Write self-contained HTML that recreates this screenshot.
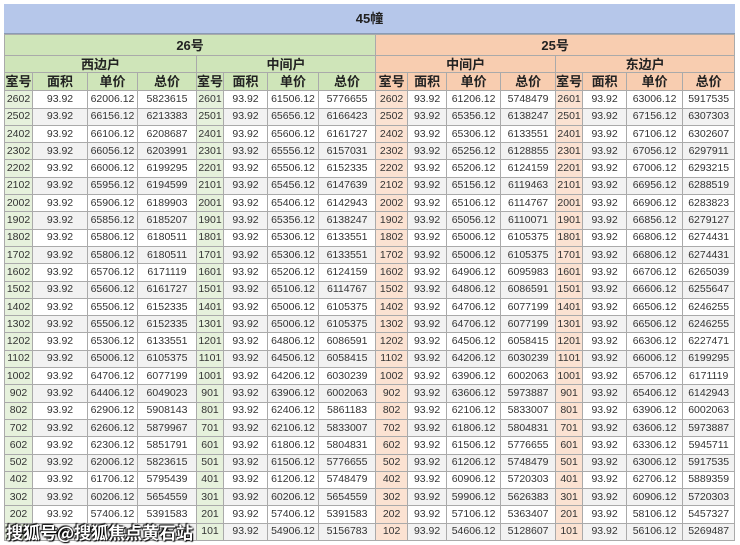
<!DOCTYPE html>
<html><head><meta charset="utf-8"><style>
body{margin:0;width:740px;height:545px;background:#fff;overflow:hidden;position:relative;font-family:"Liberation Sans","Noto Sans CJK SC",sans-serif;}
.title{position:absolute;left:4px;top:4px;width:731px;height:29px;background:#b6c7ea;text-align:center;line-height:29px;font-weight:bold;font-size:13px;color:#222;border-bottom:1px solid #8a9bb5}
table{position:absolute;left:4px;top:34px;border-collapse:collapse;table-layout:fixed;width:731px}
td{border:1px solid #aaa;padding:0;text-align:center;font-size:10.5px;color:#333;height:16.3px;line-height:15px;overflow:hidden;white-space:nowrap}
tr:nth-child(2n+5) td{background:#f2f2f2}
.g{background:#cfe5b9!important;font-weight:bold;font-size:13px;color:#222}
.o{background:#f8cdb0!important;font-weight:bold;font-size:13px;color:#222}
td.gc{background:#e6f1dc!important}
td.oc{background:#fbe2d2!important}
.wm{position:absolute;left:6px;top:519px;font-size:17px;color:#fff;font-weight:bold;text-shadow:0 0 2px #000,1px 1px 1px #000,-1px -1px 1px #000;font-family:"Noto Sans CJK SC",sans-serif}
</style></head><body>
<div class="title">45幢</div>
<table>
<colgroup><col style="width:28px"><col style="width:55px"><col style="width:50px"><col style="width:59px"><col style="width:27px"><col style="width:44px"><col style="width:51px"><col style="width:57px"><col style="width:32px"><col style="width:39px"><col style="width:54px"><col style="width:55px"><col style="width:27px"><col style="width:44px"><col style="width:56px"><col style="width:52px"></colgroup>
<tr style="height:21px"><td class="g" colspan="8">26号</td><td class="o" colspan="8">25号</td></tr>
<tr style="height:17px"><td class="g" colspan="4">西边户</td><td class="g" colspan="4">中间户</td><td class="o" colspan="4">中间户</td><td class="o" colspan="4">东边户</td></tr>
<tr style="height:18px"><td class="g">室号</td><td class="g">面积</td><td class="g">单价</td><td class="g">总价</td><td class="g">室号</td><td class="g">面积</td><td class="g">单价</td><td class="g">总价</td><td class="o">室号</td><td class="o">面积</td><td class="o">单价</td><td class="o">总价</td><td class="o">室号</td><td class="o">面积</td><td class="o">单价</td><td class="o">总价</td></tr>
<tr><td class="gc">2602</td><td>93.92</td><td>62006.12</td><td>5823615</td><td class="gc">2601</td><td>93.92</td><td>61506.12</td><td>5776655</td><td class="oc">2602</td><td>93.92</td><td>61206.12</td><td>5748479</td><td class="oc">2601</td><td>93.92</td><td>63006.12</td><td>5917535</td></tr>
<tr><td class="gc">2502</td><td>93.92</td><td>66156.12</td><td>6213383</td><td class="gc">2501</td><td>93.92</td><td>65656.12</td><td>6166423</td><td class="oc">2502</td><td>93.92</td><td>65356.12</td><td>6138247</td><td class="oc">2501</td><td>93.92</td><td>67156.12</td><td>6307303</td></tr>
<tr><td class="gc">2402</td><td>93.92</td><td>66106.12</td><td>6208687</td><td class="gc">2401</td><td>93.92</td><td>65606.12</td><td>6161727</td><td class="oc">2402</td><td>93.92</td><td>65306.12</td><td>6133551</td><td class="oc">2401</td><td>93.92</td><td>67106.12</td><td>6302607</td></tr>
<tr><td class="gc">2302</td><td>93.92</td><td>66056.12</td><td>6203991</td><td class="gc">2301</td><td>93.92</td><td>65556.12</td><td>6157031</td><td class="oc">2302</td><td>93.92</td><td>65256.12</td><td>6128855</td><td class="oc">2301</td><td>93.92</td><td>67056.12</td><td>6297911</td></tr>
<tr><td class="gc">2202</td><td>93.92</td><td>66006.12</td><td>6199295</td><td class="gc">2201</td><td>93.92</td><td>65506.12</td><td>6152335</td><td class="oc">2202</td><td>93.92</td><td>65206.12</td><td>6124159</td><td class="oc">2201</td><td>93.92</td><td>67006.12</td><td>6293215</td></tr>
<tr><td class="gc">2102</td><td>93.92</td><td>65956.12</td><td>6194599</td><td class="gc">2101</td><td>93.92</td><td>65456.12</td><td>6147639</td><td class="oc">2102</td><td>93.92</td><td>65156.12</td><td>6119463</td><td class="oc">2101</td><td>93.92</td><td>66956.12</td><td>6288519</td></tr>
<tr><td class="gc">2002</td><td>93.92</td><td>65906.12</td><td>6189903</td><td class="gc">2001</td><td>93.92</td><td>65406.12</td><td>6142943</td><td class="oc">2002</td><td>93.92</td><td>65106.12</td><td>6114767</td><td class="oc">2001</td><td>93.92</td><td>66906.12</td><td>6283823</td></tr>
<tr><td class="gc">1902</td><td>93.92</td><td>65856.12</td><td>6185207</td><td class="gc">1901</td><td>93.92</td><td>65356.12</td><td>6138247</td><td class="oc">1902</td><td>93.92</td><td>65056.12</td><td>6110071</td><td class="oc">1901</td><td>93.92</td><td>66856.12</td><td>6279127</td></tr>
<tr><td class="gc">1802</td><td>93.92</td><td>65806.12</td><td>6180511</td><td class="gc">1801</td><td>93.92</td><td>65306.12</td><td>6133551</td><td class="oc">1802</td><td>93.92</td><td>65006.12</td><td>6105375</td><td class="oc">1801</td><td>93.92</td><td>66806.12</td><td>6274431</td></tr>
<tr><td class="gc">1702</td><td>93.92</td><td>65806.12</td><td>6180511</td><td class="gc">1701</td><td>93.92</td><td>65306.12</td><td>6133551</td><td class="oc">1702</td><td>93.92</td><td>65006.12</td><td>6105375</td><td class="oc">1701</td><td>93.92</td><td>66806.12</td><td>6274431</td></tr>
<tr><td class="gc">1602</td><td>93.92</td><td>65706.12</td><td>6171119</td><td class="gc">1601</td><td>93.92</td><td>65206.12</td><td>6124159</td><td class="oc">1602</td><td>93.92</td><td>64906.12</td><td>6095983</td><td class="oc">1601</td><td>93.92</td><td>66706.12</td><td>6265039</td></tr>
<tr><td class="gc">1502</td><td>93.92</td><td>65606.12</td><td>6161727</td><td class="gc">1501</td><td>93.92</td><td>65106.12</td><td>6114767</td><td class="oc">1502</td><td>93.92</td><td>64806.12</td><td>6086591</td><td class="oc">1501</td><td>93.92</td><td>66606.12</td><td>6255647</td></tr>
<tr><td class="gc">1402</td><td>93.92</td><td>65506.12</td><td>6152335</td><td class="gc">1401</td><td>93.92</td><td>65006.12</td><td>6105375</td><td class="oc">1402</td><td>93.92</td><td>64706.12</td><td>6077199</td><td class="oc">1401</td><td>93.92</td><td>66506.12</td><td>6246255</td></tr>
<tr><td class="gc">1302</td><td>93.92</td><td>65506.12</td><td>6152335</td><td class="gc">1301</td><td>93.92</td><td>65006.12</td><td>6105375</td><td class="oc">1302</td><td>93.92</td><td>64706.12</td><td>6077199</td><td class="oc">1301</td><td>93.92</td><td>66506.12</td><td>6246255</td></tr>
<tr><td class="gc">1202</td><td>93.92</td><td>65306.12</td><td>6133551</td><td class="gc">1201</td><td>93.92</td><td>64806.12</td><td>6086591</td><td class="oc">1202</td><td>93.92</td><td>64506.12</td><td>6058415</td><td class="oc">1201</td><td>93.92</td><td>66306.12</td><td>6227471</td></tr>
<tr><td class="gc">1102</td><td>93.92</td><td>65006.12</td><td>6105375</td><td class="gc">1101</td><td>93.92</td><td>64506.12</td><td>6058415</td><td class="oc">1102</td><td>93.92</td><td>64206.12</td><td>6030239</td><td class="oc">1101</td><td>93.92</td><td>66006.12</td><td>6199295</td></tr>
<tr><td class="gc">1002</td><td>93.92</td><td>64706.12</td><td>6077199</td><td class="gc">1001</td><td>93.92</td><td>64206.12</td><td>6030239</td><td class="oc">1002</td><td>93.92</td><td>63906.12</td><td>6002063</td><td class="oc">1001</td><td>93.92</td><td>65706.12</td><td>6171119</td></tr>
<tr><td class="gc">902</td><td>93.92</td><td>64406.12</td><td>6049023</td><td class="gc">901</td><td>93.92</td><td>63906.12</td><td>6002063</td><td class="oc">902</td><td>93.92</td><td>63606.12</td><td>5973887</td><td class="oc">901</td><td>93.92</td><td>65406.12</td><td>6142943</td></tr>
<tr><td class="gc">802</td><td>93.92</td><td>62906.12</td><td>5908143</td><td class="gc">801</td><td>93.92</td><td>62406.12</td><td>5861183</td><td class="oc">802</td><td>93.92</td><td>62106.12</td><td>5833007</td><td class="oc">801</td><td>93.92</td><td>63906.12</td><td>6002063</td></tr>
<tr><td class="gc">702</td><td>93.92</td><td>62606.12</td><td>5879967</td><td class="gc">701</td><td>93.92</td><td>62106.12</td><td>5833007</td><td class="oc">702</td><td>93.92</td><td>61806.12</td><td>5804831</td><td class="oc">701</td><td>93.92</td><td>63606.12</td><td>5973887</td></tr>
<tr><td class="gc">602</td><td>93.92</td><td>62306.12</td><td>5851791</td><td class="gc">601</td><td>93.92</td><td>61806.12</td><td>5804831</td><td class="oc">602</td><td>93.92</td><td>61506.12</td><td>5776655</td><td class="oc">601</td><td>93.92</td><td>63306.12</td><td>5945711</td></tr>
<tr><td class="gc">502</td><td>93.92</td><td>62006.12</td><td>5823615</td><td class="gc">501</td><td>93.92</td><td>61506.12</td><td>5776655</td><td class="oc">502</td><td>93.92</td><td>61206.12</td><td>5748479</td><td class="oc">501</td><td>93.92</td><td>63006.12</td><td>5917535</td></tr>
<tr><td class="gc">402</td><td>93.92</td><td>61706.12</td><td>5795439</td><td class="gc">401</td><td>93.92</td><td>61206.12</td><td>5748479</td><td class="oc">402</td><td>93.92</td><td>60906.12</td><td>5720303</td><td class="oc">401</td><td>93.92</td><td>62706.12</td><td>5889359</td></tr>
<tr><td class="gc">302</td><td>93.92</td><td>60206.12</td><td>5654559</td><td class="gc">301</td><td>93.92</td><td>60206.12</td><td>5654559</td><td class="oc">302</td><td>93.92</td><td>59906.12</td><td>5626383</td><td class="oc">301</td><td>93.92</td><td>60906.12</td><td>5720303</td></tr>
<tr><td class="gc">202</td><td>93.92</td><td>57406.12</td><td>5391583</td><td class="gc">201</td><td>93.92</td><td>57406.12</td><td>5391583</td><td class="oc">202</td><td>93.92</td><td>57106.12</td><td>5363407</td><td class="oc">201</td><td>93.92</td><td>58106.12</td><td>5457327</td></tr>
<tr><td class="gc">102</td><td>93.92</td><td>54906.12</td><td>5156743</td><td class="gc">101</td><td>93.92</td><td>54906.12</td><td>5156783</td><td class="oc">102</td><td>93.92</td><td>54606.12</td><td>5128607</td><td class="oc">101</td><td>93.92</td><td>56106.12</td><td>5269487</td></tr>
</table>
<div class="wm">搜狐号@搜狐焦点黄石站</div>
</body></html>
